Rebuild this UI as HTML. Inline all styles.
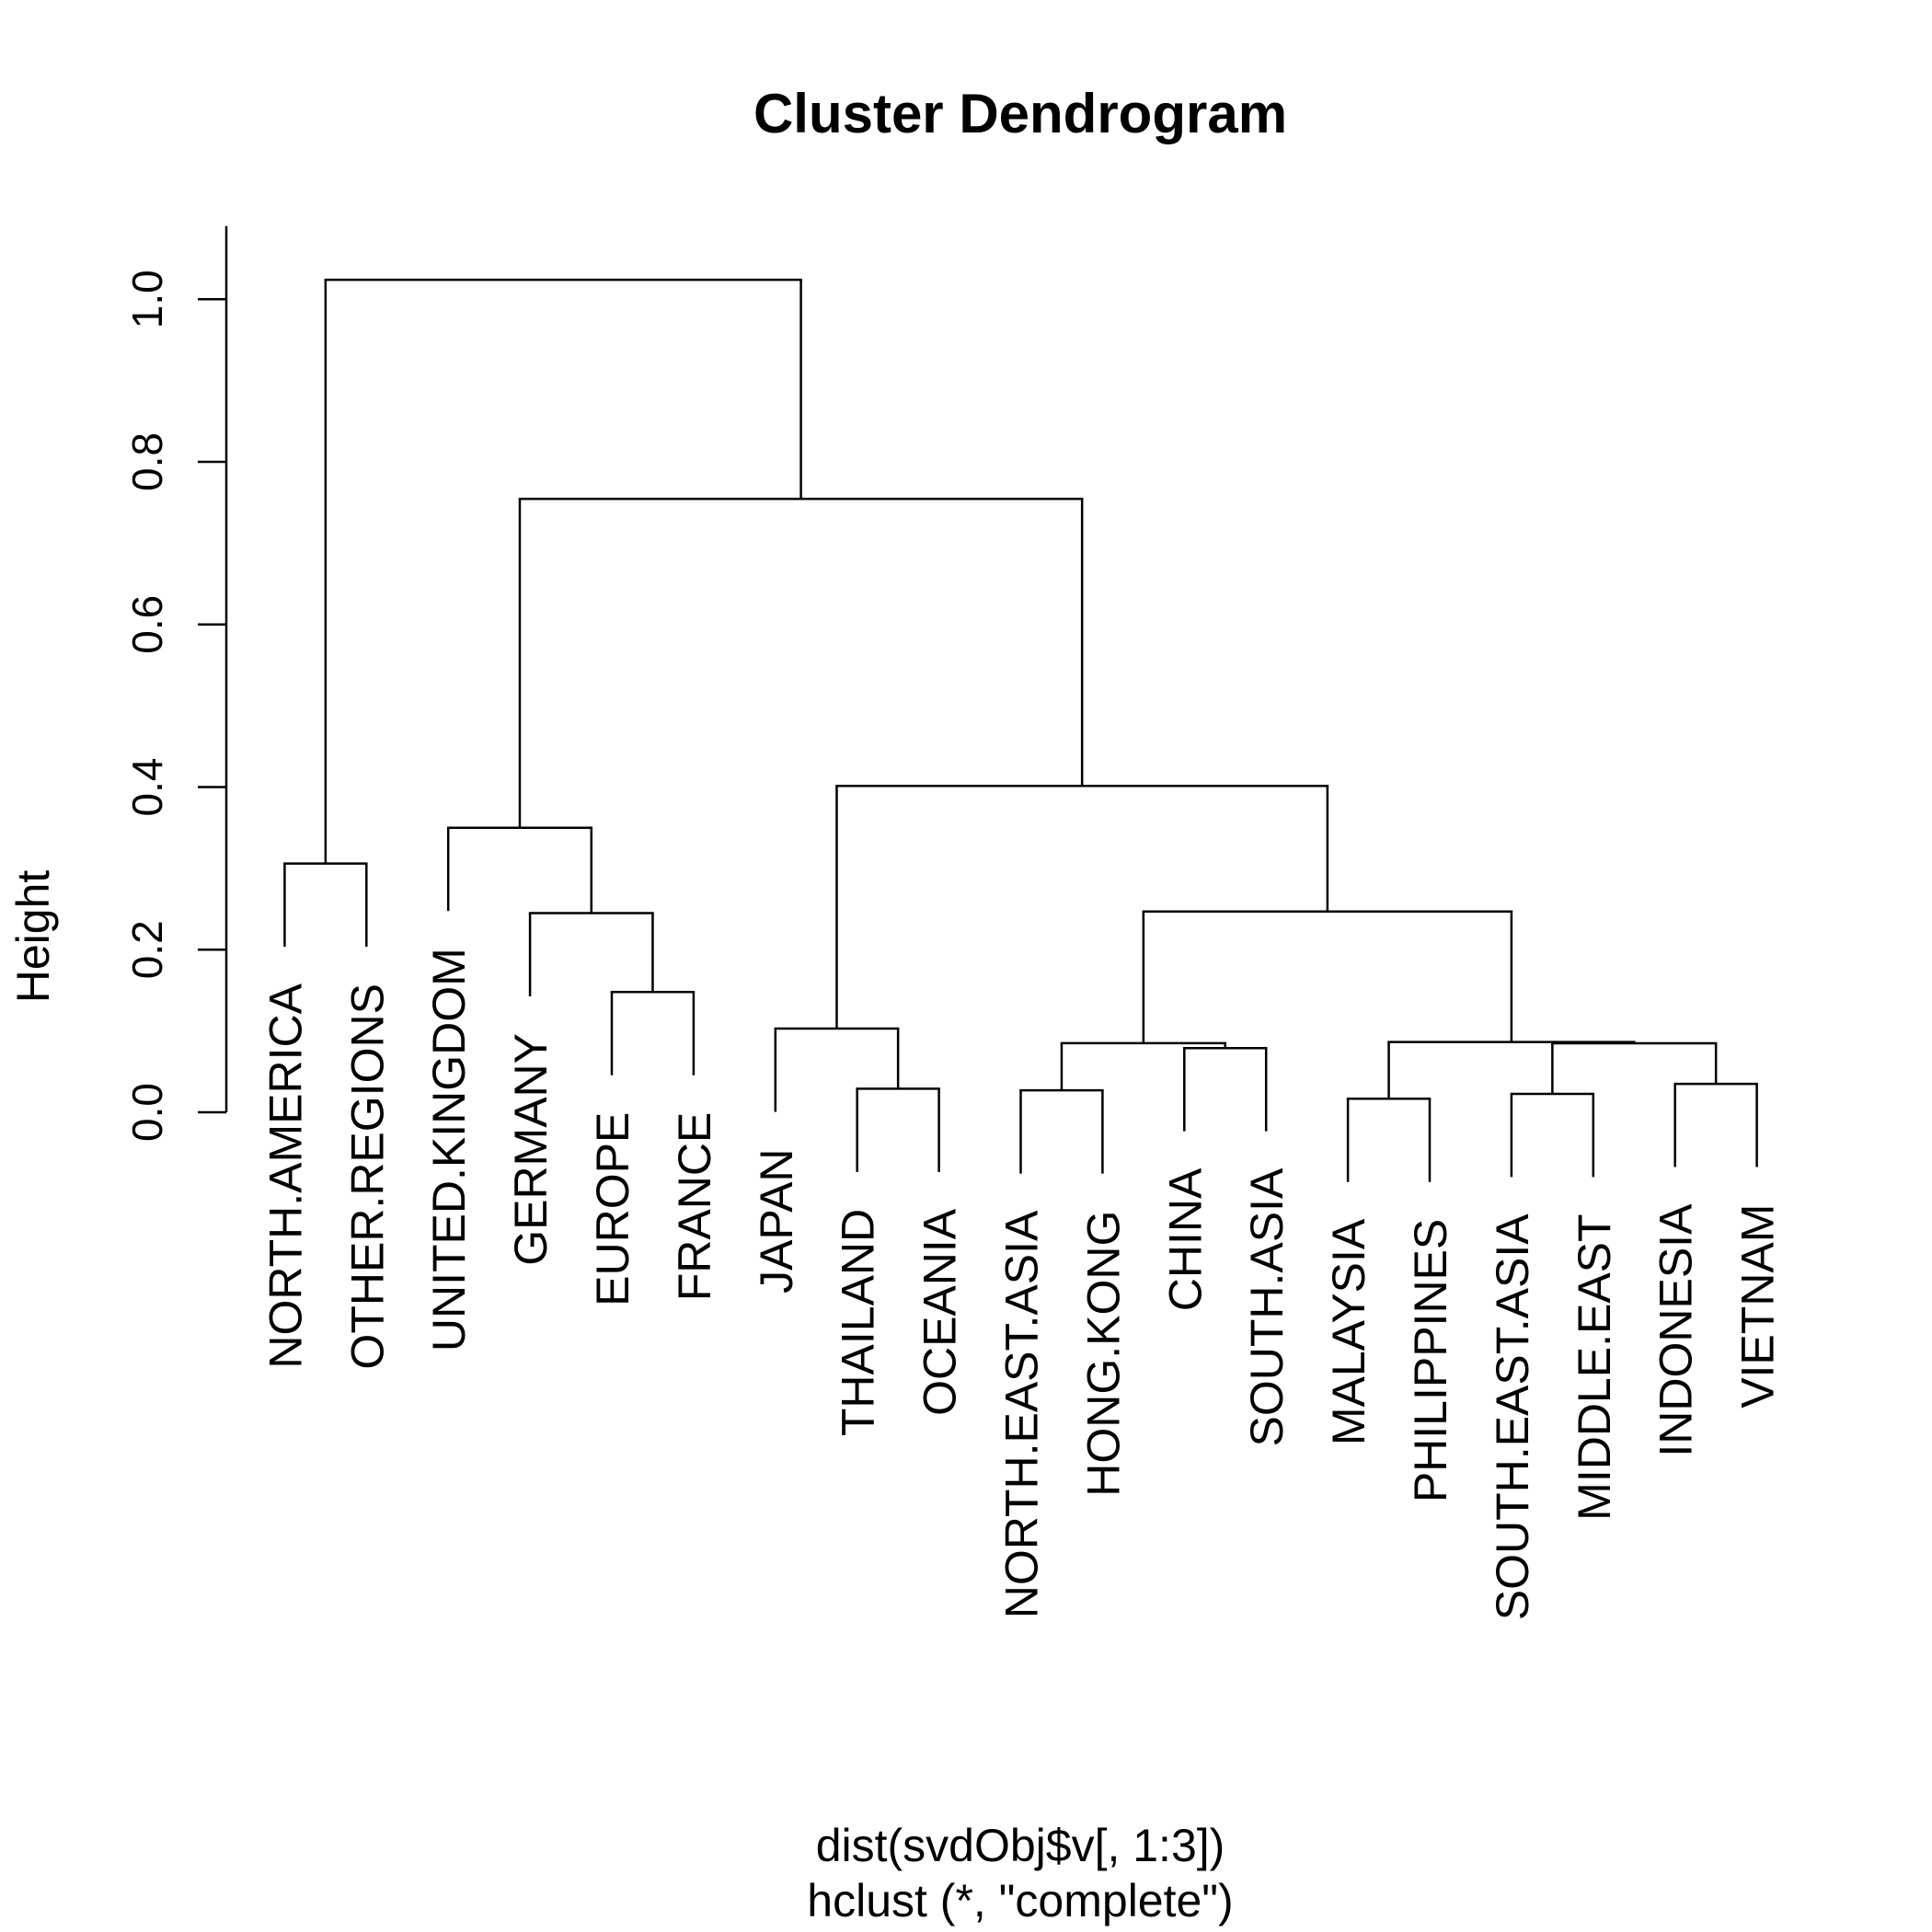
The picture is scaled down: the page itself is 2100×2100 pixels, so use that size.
<!DOCTYPE html>
<html><head><meta charset="utf-8"><style>
html,body{margin:0;padding:0;background:#fff;}
svg{display:block;font-family:"Liberation Sans",Arial,sans-serif;}
</style></head><body>
<svg id="chart" width="2100" height="2100" viewBox="0 0 2100 2100">
<rect width="2100" height="2100" fill="#fff"/>
<text x="1109" y="144" font-size="60" font-weight="bold" text-anchor="middle">Cluster Dendrogram</text>
<text x="1109" y="2023" font-size="50" text-anchor="middle">dist(svdObj$v[, 1:3])</text>
<text x="1109" y="2083" font-size="50" text-anchor="middle">hclust (*, "complete")</text>
<text x="0" y="0" font-size="50" text-anchor="middle" transform="translate(53,1018) rotate(-90)">Height</text>
<g id="axis"></g>
<g id="tree"></g>
<g id="labels"></g>
</svg>
<script>
const leaves = ["NORTH.AMERICA","OTHER.REGIONS","UNITED.KINGDOM","GERMANY","EUROPE","FRANCE","JAPAN","THAILAND","OCEANIA","NORTH.EAST.ASIA","HONG.KONG","CHINA","SOUTH.ASIA","MALAYSIA","PHILIPPINES","SOUTH.EAST.ASIA","MIDDLE.EAST","INDONESIA","VIETNAM"];
// merge children: negative = leaf index (-(i+1)), positive = earlier merge number (1-based)
const mergeLeft  = [-1,-5,-4,-3,-8,-7,-10,-12,7,-14,-16,-18,11,10,9,6,4,1];
const mergeRight = [-2,-6,2,3,-9,5,-11,-13,8,-15,-17,-19,12,13,14,15,16,17];
const mergeHeight = [0.306,0.148,0.245,0.35,0.029,0.103,0.027,0.079,0.085,0.0167,0.0227,0.035,0.0848,0.0864,0.247,0.4015,0.7545,1.024];
const yTicks = [0.0,0.2,0.4,0.6,0.8,1.0];
const yTickLabels = ["0.0","0.2","0.4","0.6","0.8","1.0"];

const NS="http://www.w3.org/2000/svg";
const X0=309.4, DX=88.9, Y0=1209, PXU=883.7;
const xs=i=>X0+i*DX;
const ys=v=>Y0-v*PXU;
const hang=0.1*Math.max(...mergeHeight);
function el(tag,attrs,parent){const e=document.createElementNS(NS,tag);for(const k in attrs)e.setAttribute(k,attrs[k]);parent.appendChild(e);return e;}

const axis=document.getElementById('axis');
const topV=1.09;
const al=el('line',{x1:246,x2:246,y1:ys(0),y2:ys(topV),stroke:'#000','stroke-width':2.5},axis);


yTicks.forEach((t,i)=>{
  const tk=el('line',{x1:246,x2:215,y1:ys(t),y2:ys(t),stroke:'#000','stroke-width':2.5},axis);
  
  
  const tx=el('text',{x:0,y:0,'font-size':46,'text-anchor':'middle',transform:`translate(176,${ys(t)}) rotate(-90)`},axis);
  tx.textContent=yTickLabels[i];
  
  
});

const tree=document.getElementById('tree');
const labels=document.getElementById('labels');
const nodeX=[], nodeH=[];
function child(c){
  if(c<0){const i=-c-1;return {x:xs(i),y:null,leaf:i};}
  return {x:nodeX[c-1],y:ys(nodeH[c-1]),leaf:null};
}
for(let m=0;m<mergeHeight.length;m++){
  const h=mergeHeight[m];
  const a=child(mergeLeft[m]), b=child(mergeRight[m]);
  const yh=ys(h);
  [a,b].forEach(c=>{
    let yb=c.y;
    if(c.leaf!==null){
      yb=ys(h-hang);
      const t=el('text',{x:0,y:0,'font-size':50,'text-anchor':'end',transform:`translate(${c.x+18},${yb+40}) rotate(-90)`},labels);
      t.textContent=leaves[c.leaf];
      
      
    }
    const v=el('line',{x1:c.x,x2:c.x,y1:yh,y2:yb,stroke:'#000','stroke-width':2.5},tree);
    
    
  });
  const hl=el('line',{x1:a.x,x2:b.x,y1:yh,y2:yh,stroke:'#000','stroke-width':2.5,'stroke-linecap':'square'},tree);
  
  
  nodeX.push((a.x+b.x)/2); nodeH.push(h);
}
</script>
</body></html>
